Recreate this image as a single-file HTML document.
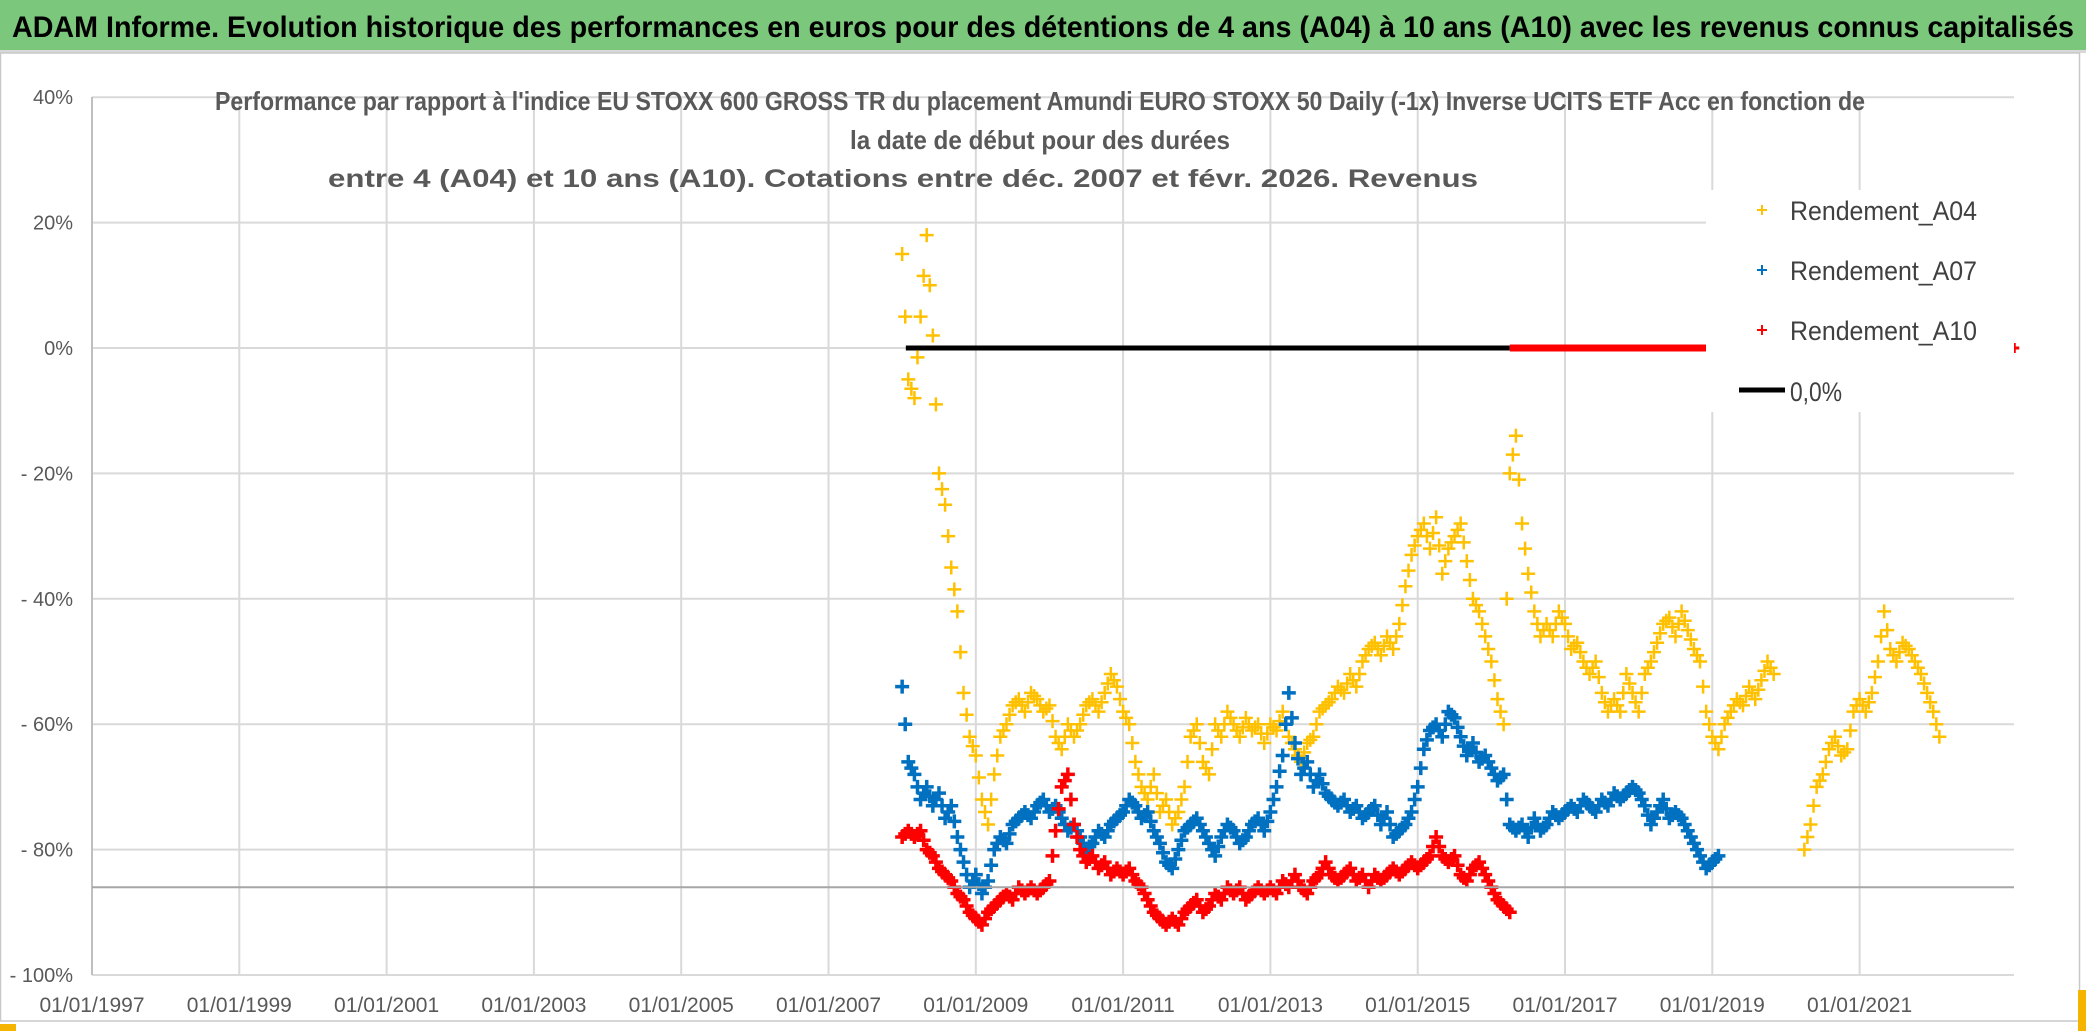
<!DOCTYPE html>
<html><head><meta charset="utf-8"><style>
html,body{margin:0;padding:0;background:#fff;}
svg{display:block;font-family:"Liberation Sans",sans-serif;}
</style></head><body>
<svg id="chart" width="2086" height="1031" viewBox="0 0 2086 1031" xmlns="http://www.w3.org/2000/svg">
<rect x="0" y="0" width="2086" height="1031" fill="#fff"/>
<rect x="0" y="0" width="2086" height="50" fill="#7bc77b"/>
<rect x="0" y="50" width="2086" height="3" fill="#d8d8d8"/>
<text x="12" y="37" font-size="30" font-weight="bold" fill="#000" textLength="2062" lengthAdjust="spacingAndGlyphs">ADAM Informe. Evolution historique des performances en euros pour des détentions de 4 ans (A04) à 10 ans (A10) avec les revenus connus capitalisés</text>
<rect x="0.5" y="53" width="2079" height="968" fill="none" stroke="#c8c8c8" stroke-width="1.5"/>
<rect x="2078" y="990" width="8" height="41" fill="#f4b400"/>
<rect x="0" y="1024" width="16" height="7" fill="#f4b400"/>
<g id="grid"></g>
<g id="marks"></g>
<g id="axes"></g>
<text x="1040" y="110" font-size="26" font-weight="bold" fill="#595959" text-anchor="middle" textLength="1650" lengthAdjust="spacingAndGlyphs">Performance par rapport à l'indice EU STOXX 600 GROSS TR  du placement Amundi EURO STOXX 50 Daily (-1x) Inverse UCITS ETF Acc en fonction de</text>
<text x="1040" y="149" font-size="26" font-weight="bold" fill="#595959" text-anchor="middle" textLength="380" lengthAdjust="spacingAndGlyphs">la date de début pour des durées</text>
<text x="903" y="187" font-size="25" font-weight="bold" fill="#595959" text-anchor="middle" textLength="1150" lengthAdjust="spacingAndGlyphs">entre 4 (A04) et 10 ans (A10). Cotations entre déc. 2007 et févr. 2026. Revenus</text>
<g id="legend"></g>
</svg>
<script>
const yTicks = [40,20,0,-20,-40,-60,-80,-100];
const yTickLabels = ["40%","20%","0%","- 20%","- 40%","- 60%","- 80%","- 100%"];
const xTickYears = [1997,1999,2001,2003,2005,2007,2009,2011,2013,2015,2017,2019,2021];
const xTickLabels = ["01/01/1997","01/01/1999","01/01/2001","01/01/2003","01/01/2005","01/01/2007","01/01/2009","01/01/2011","01/01/2013","01/01/2015","01/01/2017","01/01/2019","01/01/2021"];
const refLineValue = -86;
const zeroBlackRange = [2008.05, 2016.25];
const zeroRedRange = [2016.25, 2022.95];
const a04Start = 2008.0;
const a04Values = [15,-5,-8,5,18,2,-20,-25,-35,-42,-55,-62,
-65,-72,-76,-68,-62,-60,-57,-56,-58,-55,-56,-58,
-57,-62,-64,-60,-62,-60,-57,-56,-58,-55,-52,-54,
-58,-60,-66,-70,-72,-68,-74,-72,-76,-74,-70,-62,
-60,-66,-68,-60,-62,-58,-60,-62,-59,-61,-60,-63,
-60,-61,-58,-62,-64,-66,-63,-62,-58,-57,-56,-54,
-55,-52,-54,-50,-48,-47,-49,-46,-48,-44,-38,-33,
-30,-28,-32,-27,-36,-32,-30,-28,-34,-40,-42,-46,
-50,-56,-60,-20,-14,-28,-36,-42,-46,-44,-46,-42,
-44,-48,-47,-50,-52,-50,-55,-58,-56,-58,-52,-55,
-58,-52,-50,-47,-44,-43,-46,-42,-45,-48,-50,-58,
-62,-64,-60,-58,-56,-57,-54,-56,-53,-50,-52];
const a04bStart = 2020.25;
const a04bValues = [-80,-76,-70,-68,-64,-62,-65,-64,-58,-56,-58,-55,-50,-42,-48,-50,-47,-48,-50,-52,-55,-58,-62];
const a07Start = 2008.0;
const a07Values = [-54,-66,-68,-72,-70,-73,-71,-75,-73,-78,-82,-86,
-84,-87,-85,-80,-78,-79,-76,-75,-74,-75,-73,-72,
-74,-73,-75,-77,-76,-78,-80,-79,-77,-78,-76,-75,
-74,-72,-73,-75,-74,-77,-79,-82,-83,-80,-77,-76,
-75,-77,-79,-81,-78,-76,-77,-79,-78,-76,-75,-77,
-74,-70,-65,-55,-63,-68,-66,-70,-68,-71,-72,-73,
-72,-74,-73,-75,-74,-73,-76,-74,-78,-77,-76,-74,
-70,-64,-61,-60,-62,-58,-59,-62,-65,-63,-66,-65,
-67,-69,-68,-76,-77,-76,-78,-75,-77,-76,-74,-75,
-74,-73,-74,-72,-73,-74,-72,-73,-71,-72,-71,-70,
-71,-73,-76,-74,-72,-75,-74,-75,-77,-79,-81,-83,
-82,-81];
const a10Start = 2008.0;
const a10Values = [-78,-77,-78,-77,-80,-81,-83,-84,-85,-87,-88,-90,
-91,-92,-90,-89,-88,-87,-88,-86,-87,-86,-87,-86,
-85,-77,-70,-68,-76,-80,-82,-81,-83,-82,-84,-83,
-84,-83,-85,-86,-88,-90,-91,-92,-91,-92,-90,-89,
-88,-90,-89,-87,-88,-86,-87,-86,-88,-87,-86,-87,
-86,-87,-85,-86,-84,-86,-87,-85,-84,-82,-84,-85,
-84,-83,-85,-84,-86,-84,-85,-84,-83,-84,-83,-82,
-83,-82,-81,-78,-81,-82,-81,-84,-85,-83,-82,-84,
-86,-88,-89,-90];
const a10EndPoint = [2023.1, 0];

const NS = "http://www.w3.org/2000/svg";
const PL = 92, PR = 2014, PT = 97, PB = 975;
const X0 = 1997, PXY = 73.65;
function xs(yr){ return PL + (yr - X0) * PXY; }
function ys(v){ return 348 - v * 6.27; }
function mk(tag, attrs, parent){ const e = document.createElementNS(NS, tag); for (const k in attrs) e.setAttribute(k, attrs[k]); parent.appendChild(e); return e; }

const grid = document.getElementById('grid');
const axes = document.getElementById('axes');
const marks = document.getElementById('marks');
const legend = document.getElementById('legend');

yTicks.forEach((t, i) => {
  const l = mk('line', {x1: PL, x2: PR, y1: ys(t), y2: ys(t), stroke: '#d9d9d9', 'stroke-width': 2}, grid);
  
  
  const tx = mk('text', {x: 73, y: ys(t) + 7, 'font-size': 20, fill: '#595959', 'text-anchor': 'end'}, axes);
  tx.textContent = yTickLabels[i];
  
  
});
xTickYears.forEach((yr, i) => {
  const l = mk('line', {x1: xs(yr), x2: xs(yr), y1: PT, y2: PB, stroke: '#d9d9d9', 'stroke-width': 2}, grid);
  
  
  const tx = mk('text', {x: xs(yr), y: 1012, 'font-size': 21, fill: '#595959', 'text-anchor': 'middle'}, axes);
  tx.textContent = xTickLabels[i];
  
  
});
const ax = mk('line', {x1: PL, x2: PL, y1: PT, y2: PB, stroke: '#bfbfbf', 'stroke-width': 2}, axes);


const ref = mk('line', {x1: PL, x2: PR, y1: ys(refLineValue), y2: ys(refLineValue), stroke: '#a6a6a6', 'stroke-width': 2}, axes);



const zb = mk('line', {x1: xs(zeroBlackRange[0]), x2: xs(zeroBlackRange[1]), y1: ys(0), y2: ys(0), stroke: '#000', 'stroke-width': 5}, marks);


const zr = mk('line', {x1: xs(zeroRedRange[0]), x2: xs(zeroRedRange[1]), y1: ys(0), y2: ys(0), stroke: '#ff0000', 'stroke-width': 7}, marks);



function plus(x, y, color, s, w, parent, name){
  const p = mk('path', {d: `M${x-s} ${y}H${x+s}M${x} ${y-s}V${y+s}`, stroke: color, 'stroke-width': w, fill: 'none'}, parent);
  
  
}
function series(start, vals, color, name, s, w){
  const g = mk('g', {}, marks);
  
  
  vals.forEach((v, i) => {
    const x = xs(start + i / 12), y = ys(v);
    plus(x, y, color, s, w, g, name + '-point');
    if (i + 1 < vals.length) {
      const x2 = xs(start + (i + 1) / 12), y2 = ys(vals[i + 1]);
      plus((x + x2) / 2, (y + y2) / 2, color, s, w, g, name + '-point');
    }
  });
}
series(a04Start, a04Values, '#ffc000', 'a04', 7, 2.5);
series(a04bStart, a04bValues, '#ffc000', 'a04', 7, 2.5);
series(a07Start, a07Values, '#0070c0', 'a07', 7, 3.5);
series(a10Start, a10Values, '#ff0000', 'a10', 7, 3.5);
plus(xs(a10EndPoint[0]), ys(a10EndPoint[1]), '#ff0000', 5, 3, marks, 'a10-point');

mk('rect', {x: 1706, y: 190, width: 308, height: 222, fill: '#fff'}, legend);
const entries = [['Rendement_A04', '#ffc000', 210], ['Rendement_A07', '#0070c0', 270], ['Rendement_A10', '#ff0000', 330]];
entries.forEach(e => {
  plus(1762, e[2], e[1], 5, 2, legend, 'legend-marker');
  const t = mk('text', {x: 1790, y: e[2] + 10, 'font-size': 27, fill: '#404040', textLength: 187, lengthAdjust: 'spacingAndGlyphs'}, legend);
  t.textContent = e[0];
  
  
});
const ll = mk('line', {x1: 1739, x2: 1785, y1: 390, y2: 390, stroke: '#000', 'stroke-width': 5}, legend);


const lt = mk('text', {x: 1790, y: 401, 'font-size': 27, fill: '#404040', textLength: 52, lengthAdjust: 'spacingAndGlyphs'}, legend);
lt.textContent = '0,0%';


</script>
</body></html>
